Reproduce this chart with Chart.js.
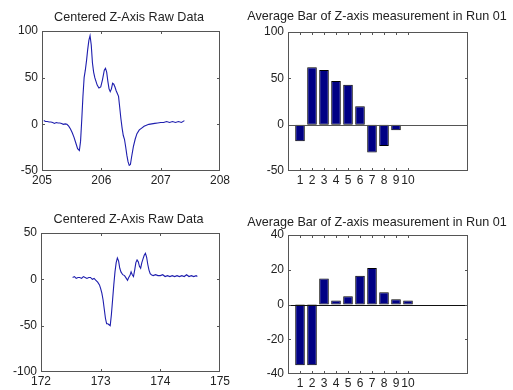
<!DOCTYPE html>
<html>
<head>
<meta charset="utf-8">
<script src="https://cdn.jsdelivr.net/npm/chart.js@4.4.1/dist/chart.umd.min.js"></script>
<style>
  html, body { margin: 0; padding: 0; background: #fff; }
  #fig { position: relative; width: 513px; height: 390px; overflow: hidden; background: #fff; }
  #fig canvas { position: absolute; left: 0; top: 0; }
</style>
</head>
<body>
<div id="fig">
  <canvas id="raw1" width="513" height="390"></canvas>
  <canvas id="bar1" width="513" height="390"></canvas>
  <canvas id="raw2" width="513" height="390"></canvas>
  <canvas id="bar2" width="513" height="390"></canvas>
</div>
<script>
// ---- titles ----
const rawTitle = 'Centered Z-Axis Raw Data';
const barTitle = 'Average Bar of Z-axis measurement in Run 01';

// ---- run A: centered z-axis samples (time, value) ----
const runATime = [205.03,205.06,205.09,205.12,205.15,205.18,205.21,205.24,205.27,205.30,
  205.33,205.36,205.39,205.42,205.45,205.48,205.51,205.54,205.57,205.60,
  205.63,205.65,205.67,205.69,205.71,205.73,205.75,205.77,205.79,205.81,
  205.83,205.85,205.87,205.89,205.91,205.93,205.96,205.99,206.02,206.05,
  206.07,206.09,206.11,206.13,206.15,206.17,206.19,206.21,206.23,206.25,
  206.27,206.29,206.31,206.33,206.35,206.37,206.39,206.41,206.43,206.45,
  206.47,206.49,206.51,206.54,206.57,206.60,206.64,206.68,206.72,206.76,
  206.80,206.85,206.90,206.95,207.00,207.05,207.10,207.15,207.20,207.25,
  207.30,207.35,207.40];
const runAZ = [4,3,3,2.5,2.5,2,1,2,1.5,1.5,
  1,0,0.5,0,-2,-5,-9,-14,-20,-26,
  -28,-18,5,30,50,58,68,80,90,95,
  85,66,56,50,46,42,39,40,48,58,
  60,56,46,38,35,38,44,43,40,36,
  33,30,18,6,-4,-12,-16,-24,-33,-40,
  -44,-43,-35,-24,-16,-10,-6,-4,-2,-1,
  0,0.5,1,1.5,2,2,3,2,3,2,
  3,2,4];

// ---- run B: centered z-axis samples (time, value) ----
const runBTime = [172.53,172.56,172.59,172.62,172.65,172.68,172.71,172.74,172.77,172.80,
  172.83,172.86,172.89,172.92,172.95,172.98,173.00,173.02,173.04,173.06,
  173.08,173.10,173.12,173.14,173.16,173.18,173.20,173.22,173.24,173.26,
  173.28,173.30,173.32,173.34,173.37,173.40,173.43,173.45,173.47,173.49,
  173.51,173.53,173.55,173.57,173.59,173.61,173.63,173.65,173.67,173.69,
  173.71,173.73,173.75,173.77,173.79,173.81,173.83,173.85,173.88,173.92,
  173.96,174.00,174.04,174.08,174.12,174.16,174.20,174.24,174.28,174.32,
  174.36,174.40,174.44,174.48,174.52,174.56,174.60,174.62];
const runBZ = [2,3,1,2,2,1,3,2,1,2,
  2,0,1,-1,-3,-6,-10,-15,-22,-32,
  -42,-48,-48,-49,-50,-38,-22,-6,8,18,
  23,20,12,8,5,4,1,-1,2,4,
  8,5,3,10,18,21,19,14,12,18,
  22,26,28,24,16,10,6,5,4,5,
  4,4,5,3,4,3,4,3,4,3,
  4,3,5,3,4,3,4,3];

// ---- per-window averages ----
const windowIndex = [1,2,3,4,5,6,7,8,9,10];
const runAAvg = [-18,62,59,47,43,20,-30,-23,-6,0];
const runBAvg = [-35,-35,15,2.3,4.8,16.5,21,7,3,2.3];

// ---- tick labels ----
const runATimeTicks = [205,206,207,208];
const runAZTicks = [-50,0,50,100];
const runBTimeTicks = [172,173,174,175];
const runBZTicks = [-100,-50,0,50];
const windowTicks = [1,2,3,4,5,6,7,8,9,10];
const runAAvgTicks = [-50,0,50,100];
const runBAvgTicks = [-40,-20,0,20,40];

Chart.defaults.font.family = '"Liberation Sans", Arial, Helvetica, sans-serif';
Chart.defaults.font.size = 12;
Chart.defaults.color = '#222';

const W = 513, H = 390;

// axes box with inward ticks on all four sides, plus panel title
const framePlugin = {
  id: 'frame',
  afterDatasetsDraw(chart, args, opts) {
    const ctx = chart.ctx, a = chart.chartArea;
    const xs = chart.scales.x, ys = chart.scales.y;
    ctx.save();
    if (opts.baseline) {
      const y0 = Math.round(ys.getPixelForValue(0)) + 0.5;
      ctx.strokeStyle = opts.baseline;
      ctx.lineWidth = 1;
      ctx.beginPath();
      ctx.moveTo(a.left, y0); ctx.lineTo(a.right, y0);
      ctx.stroke();
    }
    ctx.strokeStyle = '#555';
    ctx.lineWidth = 1;
    ctx.strokeRect(a.left + 0.5, a.top + 0.5, a.right - a.left - 1, a.bottom - a.top - 1);
    const len = 3;
    ctx.beginPath();
    xs.ticks.forEach(t => {
      const x = Math.round(xs.getPixelForValue(t.value)) + 0.5;
      if (x <= a.left + 1 || x >= a.right - 1) return;
      ctx.moveTo(x, a.bottom); ctx.lineTo(x, a.bottom - len);
      ctx.moveTo(x, a.top); ctx.lineTo(x, a.top + len);
    });
    ys.ticks.forEach(t => {
      const y = Math.round(ys.getPixelForValue(t.value)) + 0.5;
      if (y <= a.top + 1 || y >= a.bottom - 1) return;
      ctx.moveTo(a.left, y); ctx.lineTo(a.left + len, y);
      ctx.moveTo(a.right, y); ctx.lineTo(a.right - len, y);
    });
    ctx.stroke();
    ctx.fillStyle = '#222';
    ctx.font = '12.6px "Liberation Sans", Arial, sans-serif';
    ctx.textAlign = 'center';
    ctx.textBaseline = 'alphabetic';
    ctx.fillText(opts.title, (a.left + a.right) / 2 + opts.dx, opts.titleY);
    ctx.restore();
  }
};

function fixedTicks(values) {
  return scale => { scale.ticks = values.map(v => ({ value: v })); };
}

function axes(area, xr, yr, xt, yt) {
  return {
    x: {
      type: 'linear', min: xr[0], max: xr[1], offset: false,
      afterBuildTicks: fixedTicks(xt),
      afterFit: s => { s.height = H - area.bottom; },
      grid: { display: false, drawTicks: false },
      border: { display: false },
      ticks: { autoSkip: false, maxRotation: 0, padding: 2, callback: v => String(v) }
    },
    y: {
      type: 'linear', min: yr[0], max: yr[1],
      afterBuildTicks: fixedTicks(yt),
      afterFit: s => { s.width = area.left; },
      grid: { display: false, drawTicks: false },
      border: { display: false },
      ticks: { autoSkip: false, padding: 4, callback: v => String(v) }
    }
  };
}

function baseOptions(area, scales, plug) {
  return {
    responsive: false,
    animation: false,
    devicePixelRatio: 1,
    events: [],
    layout: { padding: { top: area.top, left: 0, right: W - area.right, bottom: 0 } },
    scales,
    plugins: { legend: { display: false }, tooltip: { enabled: false }, frame: plug }
  };
}

function rawChart(id, area, times, values, xr, yr, xt, yt, titleY, dx) {
  new Chart(document.getElementById(id), {
    type: 'line',
    data: {
      datasets: [{
        data: times.map((t, i) => ({ x: t, y: values[i] })),
        borderColor: '#1e1eae',
        borderWidth: 1.1,
        pointRadius: 0,
        tension: 0,
        fill: false
      }]
    },
    options: baseOptions(area, axes(area, xr, yr, xt, yt), { title: rawTitle, titleY, dx }),
    plugins: [framePlugin]
  });
}

function barChart(id, area, values, yr, yt, titleY, dx, baseline) {
  new Chart(document.getElementById(id), {
    type: 'bar',
    data: {
      datasets: [{
        data: windowIndex.map((k, i) => ({ x: k, y: values[i] })),
        backgroundColor: '#000084',
        borderColor: '#000000',
        borderWidth: 1,
        borderSkipped: false,
        barPercentage: 0.8,
        categoryPercentage: 1.0
      }]
    },
    options: baseOptions(area, axes(area, [0, 15], yr, windowTicks, yt), { title: barTitle, titleY, dx, baseline }),
    plugins: [framePlugin]
  });
}

rawChart('raw1', { left: 42, top: 31, right: 220, bottom: 171 }, runATime, runAZ,
  [205, 208], [-50, 100], runATimeTicks, runAZTicks, 21, -2);
barChart('bar1', { left: 288, top: 32, right: 468, bottom: 171 }, runAAvg,
  [-50, 100], runAAvgTicks, 20, -1, '#555');
rawChart('raw2', { left: 41, top: 233, right: 220, bottom: 372 }, runBTime, runBZ,
  [172, 175], [-100, 50], runBTimeTicks, runBZTicks, 223, -2);
barChart('bar2', { left: 288, top: 235, right: 468, bottom: 374 }, runBAvg,
  [-40, 40], runBAvgTicks, 226, -1, '#111');
</script>
</body>
</html>
